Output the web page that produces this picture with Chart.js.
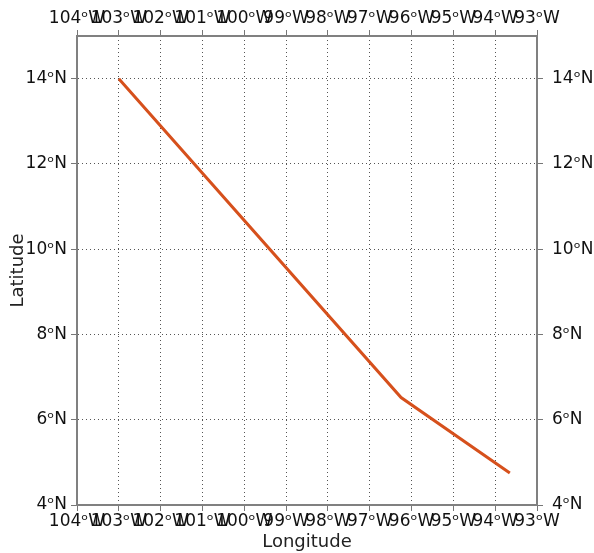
<!DOCTYPE html>
<html>
<head>
<meta charset="utf-8">
<script src="https://cdn.jsdelivr.net/npm/chart.js@4/dist/chart.umd.min.js"></script>
<style>
  body { margin: 0; background: #fff; }
  #wrap { width: 594px; height: 553px; }
</style>
</head>
<body>
<div id="wrap"><canvas id="trackChart" width="594" height="553"></canvas></div>
<script>
// track points (degrees, west negative)
const trackLon = [-103.0, -96.25, -93.65];
const trackLat = [14.0, 6.52, 4.75];

// axis ticks
const lonTicks = [-104, -103, -102, -101, -100, -99, -98, -97, -96, -95, -94, -93];
const latTicks = [4, 6, 8, 10, 12, 14];

const lonLabel = v => Math.abs(v) + '\u1D52W';
const latLabel = v => Math.abs(v) + '\u1D52N';

const tickFont = { family: 'DejaVu Sans', size: 17 };
const titleFont = { family: 'DejaVu Sans', size: 18 };
const borderCol = '#808080';
const tickCol = '#777777';

function fixedSize(size) {
    return function (scale) {
        if (scale.isHorizontal()) scale.height = size;
        else scale.width = size;
    };
}

function useTicks(list) {
    return function (scale) {
        scale.ticks = list.map(v => ({ value: v }));
    };
}

const ctx = document.getElementById('trackChart').getContext('2d');

new Chart(ctx, {
    type: 'scatter',
    data: {
        datasets: [{
            data: trackLon.map((lon, i) => ({ x: lon, y: trackLat[i] })),
            showLine: true,
            borderColor: '#d6501c',
            borderWidth: 3,
            pointRadius: 0,
            fill: false
        }]
    },
    options: {
        responsive: false,
        animation: false,
        events: [],
        layout: { padding: 0 },
        plugins: {
            legend: { display: false },
            tooltip: { enabled: false }
        },
        scales: {
            x: {
                type: 'linear', position: 'bottom', min: -104, max: -93,
                afterBuildTicks: useTicks(lonTicks),
                afterFit: fixedSize(48),
                grid: { color: '#555', lineWidth: 1, tickLength: 6, tickColor: tickCol },
                border: { color: borderCol, width: 2, dash: [1, 3] },
                ticks: { callback: lonLabel, autoSkip: false, maxRotation: 0, minRotation: 0, color: '#111', font: tickFont, padding: 0 },
                title: { display: true, text: 'Longitude', color: '#222', font: titleFont, padding: 0 }
            },
            x2: {
                type: 'linear', position: 'top', min: -104, max: -93,
                afterBuildTicks: useTicks(lonTicks),
                afterFit: fixedSize(36),
                grid: { drawOnChartArea: false, tickLength: 6, tickColor: tickCol },
                border: { color: borderCol, width: 2 },
                ticks: { callback: lonLabel, autoSkip: false, maxRotation: 0, minRotation: 0, color: '#111', font: tickFont, padding: 1 }
            },
            y: {
                type: 'linear', position: 'left', min: 4, max: 15,
                afterBuildTicks: useTicks(latTicks),
                afterFit: fixedSize(77),
                grid: { color: '#555', lineWidth: 1, tickLength: 6, tickColor: tickCol },
                border: { color: borderCol, width: 2, dash: [1, 3] },
                ticks: { callback: latLabel, color: '#111', font: tickFont, padding: 4 },
                title: { display: true, text: 'Latitude', color: '#222', font: titleFont, padding: 8 }
            },
            y2: {
                type: 'linear', position: 'right', min: 4, max: 15,
                afterBuildTicks: useTicks(latTicks),
                afterFit: fixedSize(57),
                grid: { drawOnChartArea: false, tickLength: 6, tickColor: tickCol },
                border: { color: borderCol, width: 2 },
                ticks: { callback: latLabel, color: '#111', font: tickFont, padding: 9 }
            }
        }
    }
});
</script>
</body>
</html>
